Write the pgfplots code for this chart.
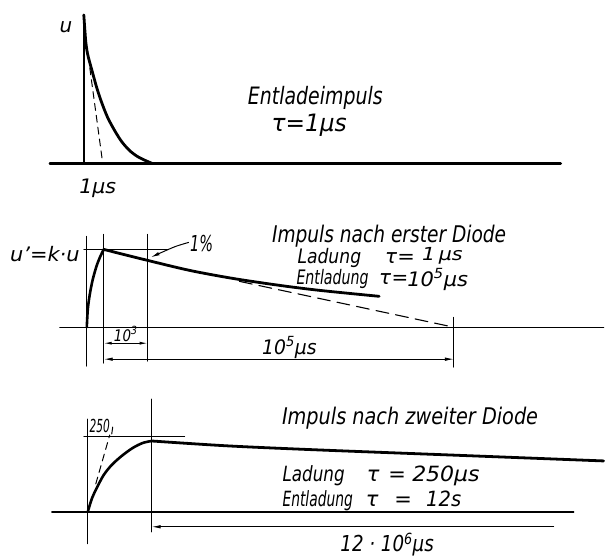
\documentclass[border=0pt]{standalone}
\usepackage{fontspec}
\setmainfont{DejaVu Sans}
\usepackage{graphicx}
\usepackage{pgfplots}
\pgfplotsset{compat=1.18}
\usetikzlibrary{arrows.meta}

% hand-lettered look: oblique, squeezed sideways
\newcommand{\hw}[2][0.78]{\scalebox{#1}[1]{\itshape #2}}
\newcommand{\fs}[1]{\fontsize{#1}{#1}\selectfont}
\tikzset{every node/.append style={inner sep=0pt}}

\begin{document}
\begin{tikzpicture}
\begin{axis}[
    scale only axis,
    width=605pt, height=561pt,
    xmin=0, xmax=605, ymin=0, ymax=561,
    y dir=reverse,
    hide axis,
    clip=false,
    every axis plot/.append style={line cap=round, line join=round},
]
\addplot[draw=none] coordinates {(0,0) (605,561)};

% ---------- panel 1: Entladeimpuls ----------
\addplot[black, line width=2.6pt] coordinates {(50,164) (562,164)};
\addplot[black, line width=2.4pt] coordinates {(84,164) (84,15)};
\addplot[black, line width=2.8pt, smooth] coordinates {
    (84,15) (86,42) (88,55) (92,70) (97,88) (102,103) (108,118)
    (115,131) (122,142) (130,151) (138,157) (146,161) (153,164)};
\addplot[black, line width=1pt, dash pattern=on 7pt off 5pt] coordinates {(90,68) (103,164)};

\node[anchor=base, font=\fs{20}] at (66,33) {\hw[1]{u}};
\node[anchor=base, font=\fs{20}] at (98,194) {\hw[1.03]{1µs}};
\node[anchor=base, font=\fs{24}] at (316,105) {\hw[0.79]{Entladeimpuls}};
\node[anchor=base, font=\fs{24}] at (310,132) {\hw[0.97]{τ=1µs}};

% ---------- panel 2: Impuls nach erster Diode ----------
\addplot[black, line width=1.4pt] coordinates {(60,328) (605,328)};
\addplot[black, line width=1pt] coordinates {(87,237) (87,367)};
\addplot[black, line width=1pt] coordinates {(104,235) (104,364)};
\addplot[black, line width=1pt] coordinates {(148,235) (148,362)};
\addplot[black, line width=1pt] coordinates {(455,318) (455,368)};
\addplot[black, line width=1pt] coordinates {(84,250) (168,250)};
\addplot[black, line width=2.6pt, smooth] coordinates {
    (87,328) (88,310) (90,295) (93,280) (97,266) (101,256) (104,250)};
\addplot[black, line width=2.8pt, smooth] coordinates {
    (104,250) (148,261) (190,271) (233,279) (280,286) (320,291) (380,297)};
\addplot[black, line width=1.1pt, dash pattern=on 13pt off 7pt] coordinates {(240,282) (455,328)};
\addplot[black, line width=1pt, -{Latex[length=9pt,width=3.5pt]}, smooth] coordinates {
    (189,243) (176,247) (162,253) (151,258)};
\addplot[black, line width=0.9pt, {Latex[length=8pt,width=3pt]}-{Latex[length=8pt,width=3pt]}]
    coordinates {(104,344) (148,344)};
\addplot[black, line width=0.9pt, {Latex[length=9pt,width=3.5pt]}-{Latex[length=9pt,width=3.5pt]}]
    coordinates {(104,360) (455,360)};

\node[anchor=base, font=\fs{20}] at (45,262) {\hw[1.05]{u'=k·u}};
\node[anchor=base, font=\fs{22}] at (202,252) {\hw[0.66]{1\%}};
\node[anchor=base, font=\fs{16}] at (126,342) {\hw[0.84]{10\textsuperscript{3}}};
\node[anchor=base, font=\fs{20}] at (290,355) {\hw[0.94]{10\textsuperscript{5}µs}};
\node[anchor=base, font=\fs{23}] at (390,243) {\hw[0.81]{Impuls nach erster Diode}};
\node[anchor=base west, font=\fs{20}] at (298,264) {\hw[0.86]{Ladung}};
\node[anchor=base, font=\fs{20}] at (392,264) {\hw[1]{τ}};
\node[anchor=base, font=\fs{20}] at (407,264) {\hw[1.05]{=}};
\node[anchor=base west, font=\fs{18}] at (423,261) {\hw[1.15]{1\,µs}};
\node[anchor=base west, font=\fs{20}] at (297,285) {\hw[0.71]{Entladung}};
\node[anchor=base, font=\fs{20}] at (386,285) {\hw[1]{τ}};
\node[anchor=base, font=\fs{20}] at (401,285) {\hw[1]{=}};
\node[anchor=base west, font=\fs{20}] at (408,287) {\hw[1.05]{10\textsuperscript{5}µs}};

% ---------- panel 3: Impuls nach zweiter Diode ----------
\addplot[black, line width=1.4pt] coordinates {(52,513) (575,513)};
\addplot[black, line width=1pt] coordinates {(88,420) (88,545)};
\addplot[black, line width=1pt] coordinates {(152,400) (152,533)};
\addplot[black, line width=1pt] coordinates {(84,438) (185,438)};
\addplot[black, line width=2.6pt, smooth] coordinates {
    (88,513) (92,500) (97,489) (104,476) (112,466) (122,457) (133,449) (143,444) (152,442)};
\addplot[black, line width=1pt, dash pattern=on 7pt off 5pt] coordinates {(96,485) (110,436)};
\addplot[black, line width=2.8pt, smooth] coordinates {
    (152,442) (230,447) (320,451) (450,456) (605,462)};
\addplot[black, line width=1pt] coordinates {(113,428) (112,435)};
\addplot[black, line width=0.9pt, {Latex[length=9pt,width=3.5pt]}-] coordinates {(152,528) (555,528)};

\node[anchor=base, font=\fs{18}] at (100,433) {\hw[0.59]{250}};
\node[anchor=base, font=\fs{23}] at (411,425) {\hw[0.84]{Impuls nach zweiter Diode}};
\node[anchor=base west, font=\fs{21}] at (283,483) {\hw[0.8]{Ladung}};
\node[anchor=base, font=\fs{21}] at (374,483) {\hw[1]{τ}};
\node[anchor=base, font=\fs{21}] at (398,483) {\hw[1]{=}};
\node[anchor=base west, font=\fs{21}] at (413,483) {\hw[1.05]{250µs}};
\node[anchor=base west, font=\fs{21}] at (283,508) {\hw[0.66]{Entladung}};
\node[anchor=base, font=\fs{21}] at (373,508) {\hw[1]{τ}};
\node[anchor=base, font=\fs{21}] at (404,508) {\hw[1]{=}};
\node[anchor=base west, font=\fs{21}] at (427,508) {\hw[0.93]{12s}};
\node[anchor=base, font=\fs{22}] at (388,553) {\hw[0.83]{12 · 10\textsuperscript{6}µs}};
\end{axis}
\end{tikzpicture}
\end{document}
